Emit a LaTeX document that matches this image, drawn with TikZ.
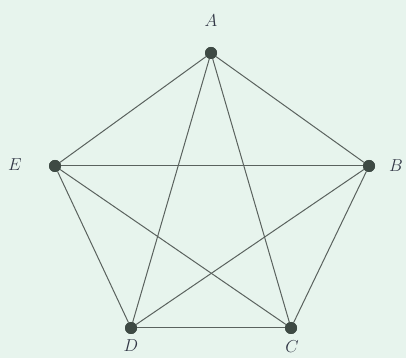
\documentclass[tikz,border=0pt]{standalone}
\usepackage{amsmath}
\usepackage{tikz}
\usepackage{xcolor}

\definecolor{bgmint}{RGB}{231,244,237}
\definecolor{edgegray}{RGB}{90,98,94}
\definecolor{dotgray}{RGB}{62,74,68}
\definecolor{labelink}{RGB}{50,55,70}

\tikzset{
    vertex/.style={circle, fill=dotgray, inner sep=0pt, minimum size=12pt},
    edge/.style={draw=edgegray, line width=1pt},
    vlabel/.style={text=labelink, font=\LARGE}
}

\begin{document}
\begin{tikzpicture}[x=1pt, y=1pt]
    % background
    \fill[bgmint] (0,0) rectangle (406,358);
    \useasboundingbox (0,0) rectangle (406,358);

    % vertices
    \node[vertex] (A) at (211, 305) {};
    \node[vertex] (B) at (369, 192) {};
    \node[vertex] (C) at (291, 30) {};
    \node[vertex] (D) at (131, 30) {};
    \node[vertex] (E) at (55, 192) {};

    % labels
    \node[vlabel] (lA) at (211, 337) {$A$};
    \node[vlabel] (lB) at (396, 192) {$B$};
    \node[vlabel] (lC) at (292, 11) {$C$};
    \node[vlabel] (lD) at (131, 12) {$D$};
    \node[vlabel] (lE) at (15, 193) {$E$};

    % outer pentagon
    \draw[edge] (A) -- (B);
    \draw[edge] (B) -- (C);
    \draw[edge] (C) -- (D);
    \draw[edge] (D) -- (E);
    \draw[edge] (E) -- (A);

    % inner star
    \draw[edge] (A) -- (C);
    \draw[edge] (A) -- (D);
    \draw[edge] (B) -- (D);
    \draw[edge] (B) -- (E);
    \draw[edge] (C) -- (E);

    % redraw dots on top
    \foreach \v in {A,B,C,D,E}
        \fill[dotgray] (\v) circle (6);
\end{tikzpicture}
\end{document}
